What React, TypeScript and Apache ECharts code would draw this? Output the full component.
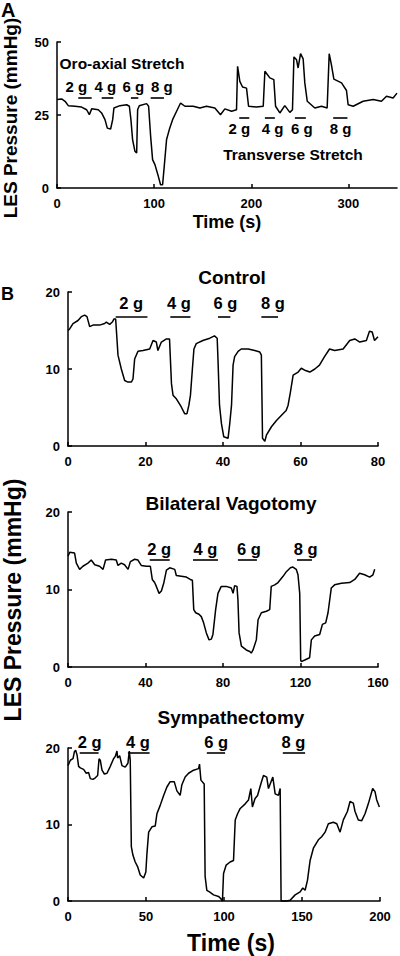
import React, { useEffect, useRef } from "react";
import * as echarts from "echarts";

// ---------- Panel A (oro-axial vs transverse stretch) ----------
const aTime = [0, 4.8, 8.3, 11.6, 18.5, 25.3, 30.5, 33.3, 35.7, 42.5, 45.9, 49.4, 51.8, 55.2, 57.3, 58.6, 64.8, 71.7, 74.5, 76.1, 77.8, 80.2, 82.0, 83.0, 84.7, 92.2, 94.3, 96.4, 98.4, 100.8, 104.3, 106.6, 108.7, 110.4, 112.8, 115.6, 119.0, 123.1, 127.2, 131.7, 140.2, 147.1, 153.9, 162.5, 168.3, 172.8, 179.7, 184.8, 185.9, 188.2, 191.0, 195.1, 197.2, 205.4, 212.3, 214.0, 219.1, 223.2, 225.0, 229.4, 234.5, 239.7, 242.4, 243.9, 246.6, 248.2, 250.7, 253.4, 255.1, 257.6, 265.4, 272.3, 278.1, 280.2, 282.5, 285.0, 292.9, 298.0, 299.7, 304.9, 315.1, 325.5, 334.0, 339.2, 346.0, 350];
const aPressure = [30.3, 30.5, 29.7, 28.2, 28.0, 27.7, 26.8, 25.1, 27.1, 26.8, 25.7, 23.4, 20.5, 20.2, 23.4, 27.4, 28.2, 28.5, 28.0, 23.4, 16.6, 12.6, 12.0, 26.8, 28.2, 28.9, 28.0, 17.7, 9.7, 8.0, 4.0, 1.1, 1.1, 7.4, 16.6, 20.0, 23.4, 26.3, 29.1, 28.0, 28.0, 27.4, 28.0, 27.4, 25.1, 27.1, 26.3, 26.8, 41.7, 36.5, 34.6, 34.2, 28.0, 27.7, 28.0, 40.0, 37.7, 37.1, 28.0, 25.7, 28.2, 25.9, 26.8, 44.9, 43.9, 41.1, 46.0, 44.2, 36.0, 29.7, 27.4, 28.0, 27.4, 46.0, 42.2, 37.3, 36.0, 33.4, 28.5, 28.0, 29.7, 30.3, 29.7, 31.4, 30.8, 32.5];
const aOroBars = [[21.9, 35.7], [46.0, 58.0], [76.1, 83.7], [96.4, 110.1]];
const aOroBarLevel = 30.8;
const aOroLabelX = [19.9, 49.7, 78.5, 108];
const aOroLabelLevel = 34.6;
const aTransBars = [[187.6, 197.9], [214.0, 224.3], [244.9, 256.2], [284.3, 299.0]];
const aTransBarLevel = 24.0;
const aTransLabelX = [187.6, 222, 252, 292];
const aTransLabelLevel = 20.5;

// ---------- Panel B: Control ----------
const cTime = [0, 0.43, 1.29, 2.58, 3.44, 4.3, 4.9, 5.59, 6.45, 8.17, 9.46, 9.89, 10.75, 11.44, 11.87, 12.3, 12.9, 13.76, 14.62, 15.48, 16.34, 16.77, 17.2, 18.06, 19.35, 21.08, 21.94, 22.8, 23.2, 24.1, 25.4, 26.2, 26.7, 27.1, 28.0, 29.2, 30.1, 30.7, 31.2, 31.6, 32.1, 32.5, 33.1, 34.8, 36.6, 37.8, 38.5, 38.7, 39.1, 39.6, 40.2, 41.3, 41.7, 42.2, 42.6, 43.0, 43.9, 44.7, 46.5, 48.2, 49.5, 49.9, 50.2, 50.8, 51.2, 52.5, 53.8, 55.1, 56.3, 56.8, 57.4, 58.1, 59.4, 60.2, 61.3, 62.4, 63.7, 64.9, 66.2, 67.5, 68.8, 71.0, 72.7, 74.0, 75.3, 77.0, 77.8, 78.5, 79.1, 80];
const cPressure = [15.0, 15.2, 15.9, 16.3, 16.8, 17.0, 16.8, 15.5, 15.7, 15.7, 15.9, 16.1, 15.8, 16.1, 16.5, 16.5, 11.8, 10.0, 8.5, 8.3, 8.3, 8.7, 11.3, 12.3, 12.4, 12.6, 13.7, 13.5, 12.4, 13.5, 13.9, 13.9, 8.1, 6.6, 6.1, 5.1, 4.2, 4.2, 5.3, 6.6, 10.0, 12.6, 13.3, 13.7, 14.0, 14.3, 14.0, 11.3, 5.3, 2.9, 1.2, 1.0, 2.7, 5.3, 10.5, 11.6, 12.3, 12.6, 12.6, 12.4, 12.2, 11.8, 1.0, 0.6, 1.4, 2.5, 3.3, 4.0, 4.6, 5.3, 7.0, 9.2, 9.6, 10.1, 9.8, 9.6, 10.0, 10.5, 11.6, 12.6, 12.4, 12.6, 13.7, 13.9, 13.5, 13.7, 14.9, 14.8, 13.7, 14.2];
const cBars = [[12.3, 20.5], [26.4, 31.6], [38.7, 41.9], [49.9, 54.2]];
const cBarLevel = 16.75;
const cLabelX = [16.3, 28.6, 40.6, 52.9];
const cLabelLevel = 18.6;

// ---------- Panel B: Bilateral Vagotomy ----------
const vTime = [0, 0.9, 3.4, 4.3, 6.0, 7.7, 10.3, 12.0, 13.8, 16.3, 18.1, 19.4, 22.4, 24.9, 25.8, 27.5, 29.2, 31.0, 32.2, 34.4, 36.1, 37.8, 40.4, 42.5, 43.5, 44.7, 45.6, 47.0, 48.2, 49.4, 50.8, 52.5, 55.1, 55.9, 58.5, 61.1, 63.1, 64.2, 64.9, 65.9, 67.6, 68.8, 70.0, 71.4, 72.8, 74.0, 74.8, 76.2, 77.4, 79.1, 81.7, 84.3, 85.2, 86.0, 87.2, 87.7, 88.3, 89.5, 92.0, 93.8, 94.6, 95.5, 97.2, 98.1, 99.8, 102.4, 104.1, 104.9, 106.7, 108.4, 111.0, 112.7, 114.8, 116.1, 117.8, 118.7, 119.6, 120.1, 120.4, 122.2, 124.7, 125.6, 127.3, 129.9, 131.3, 133.0, 134.2, 135.9, 137.6, 141.1, 145.4, 148.0, 150.5, 153.1, 155.7, 157.4, 158.3];
const vPressure = [14.3, 14.8, 14.7, 13.4, 12.6, 13.0, 13.4, 13.8, 13.2, 13.0, 12.6, 13.8, 13.9, 13.8, 13.1, 13.4, 13.2, 12.6, 13.6, 13.9, 13.8, 13.1, 13.0, 13.0, 11.3, 10.9, 10.4, 9.5, 9.8, 10.8, 12.5, 12.8, 12.6, 11.8, 11.7, 11.6, 11.3, 11.2, 7.4, 7.0, 6.8, 6.5, 5.7, 4.4, 3.5, 3.6, 4.2, 7.4, 9.5, 10.4, 10.4, 10.2, 9.5, 10.5, 10.4, 8.7, 4.4, 2.7, 2.2, 2.0, 1.8, 2.2, 3.5, 6.1, 7.0, 7.2, 7.4, 10.4, 10.6, 10.9, 11.7, 12.3, 12.8, 12.9, 12.6, 11.9, 9.5, 0.9, 0.7, 0.9, 1.2, 3.5, 4.0, 4.2, 5.5, 5.7, 7.0, 10.2, 10.6, 10.8, 10.9, 11.3, 12.1, 11.9, 11.6, 11.9, 12.6];
const vBars = [[42.2, 52.5], [64.5, 77.4], [87.7, 97.5], [118.2, 125.9]];
const vBarLevel = 13.85;
const vLabelX = [47, 70.9, 93.4, 122.7];
const vLabelLevel = 15.2;

// ---------- Panel B: Sympathectomy ----------
const sTime = [0, 1.5, 3.2, 4.1, 4.9, 5.8, 6.8, 7.9, 10.0, 11.7, 13.2, 14.3, 16.0, 17.5, 19.0, 19.9, 20.7, 21.8, 23.3, 25.0, 27.1, 29.2, 30.3, 31.4, 31.8, 33.1, 34.6, 36.7, 38.4, 39.3, 39.9, 40.6, 41.6, 43.1, 44.6, 46.3, 48.5, 49.9, 50.6, 51.7, 53.8, 55.9, 57.0, 59.1, 61.3, 63.4, 65.5, 68.1, 69.8, 71.9, 73.0, 75.1, 77.3, 80.5, 83.7, 84.3, 85.2, 87.3, 87.9, 89.0, 90.7, 93.3, 96.5, 98.0, 99.0, 99.7, 101.4, 103.9, 106.1, 107.2, 108.7, 110.4, 113.6, 115.7, 117.2, 118.2, 119.9, 121.5, 123.6, 125.3, 127.4, 128.5, 131.3, 132.8, 134.9, 136.0, 136.6, 138.1, 140.2, 142.4, 145.6, 148.8, 150.5, 152.0, 153.5, 155.2, 157.3, 160.5, 162.6, 164.8, 166.9, 170.1, 172.3, 174.4, 176.5, 179.1, 180.8, 182.9, 184.0, 186.1, 188.3, 190.4, 192.5, 195.3, 196.8, 197.9, 199.6];
const sPressure = [17.7, 18.4, 18.6, 19.5, 19.7, 19.1, 17.6, 17.4, 17.2, 16.7, 16.8, 16.0, 15.9, 16.1, 16.4, 18.6, 18.4, 17.1, 16.6, 16.7, 17.6, 18.6, 18.9, 19.6, 18.7, 19.0, 17.7, 17.5, 18.0, 19.6, 18.4, 7.1, 6.0, 5.1, 4.5, 3.4, 3.0, 3.8, 6.2, 9.0, 9.7, 9.8, 11.4, 12.5, 13.8, 14.9, 15.6, 15.6, 14.4, 13.8, 15.2, 16.2, 16.7, 17.1, 17.3, 17.9, 15.8, 15.3, 3.2, 1.4, 1.2, 0.8, 0.6, 0.3, 0, 3.6, 4.7, 5.1, 5.3, 10.6, 11.4, 12.1, 12.7, 13.2, 14.7, 12.3, 13.4, 13.8, 15.3, 16.4, 16.2, 14.7, 16.2, 14.0, 13.8, 14.7, 0, 0, 0, 0.1, 0.8, 1.2, 1.7, 1.4, 2.7, 5.3, 6.9, 8.0, 8.4, 9.0, 10.1, 10.3, 10.1, 9.0, 10.6, 11.7, 13.0, 12.8, 11.7, 10.6, 10.5, 11.4, 12.7, 14.7, 14.3, 13.2, 12.3];
const sBars = [[7.5, 19.6], [38.4, 52.3], [89.0, 100.7], [137.7, 152.0]];
const sBarLevel = 19.35;
const sLabelX = [13.9, 44.8, 95.0, 144.5];
const sLabelLevel = 20.8;

const stimLabels = ["2 g", "4 g", "6 g", "8 g"];

// axis ranges
const aXMax = 350, aXStep = 100, aYMax = 50, aYStep = 25;
const cXMax = 80, cXStep = 20;
const vXMax = 160, vXStep = 40;
const sXMax = 200, sXStep = 50;
const bYMax = 20, bYStep = 10;

const FONT = "'Liberation Sans', Arial, Helvetica, sans-serif";

function zip(t: number[], p: number[]) {
  const n = Math.min(t.length, p.length);
  const out: number[][] = [];
  for (let i = 0; i < n; i++) out.push([t[i], p[i]]);
  return out;
}

function traceSeries(idx: number, t: number[], p: number[], bars: number[][][], levels: number[]) {
  const segs: any[] = [];
  bars.forEach((set, k) => {
    set.forEach(([s, e]) => {
      segs.push([{ coord: [s, levels[k]] }, { coord: [e, levels[k]] }]);
    });
  });
  return {
    type: "line",
    xAxisIndex: idx,
    yAxisIndex: idx,
    data: zip(t, p),
    symbol: "none",
    silent: true,
    clip: false,
    lineStyle: { color: "#000", width: 1.5 },
    markLine: {
      silent: true,
      symbol: ["none", "none"],
      label: { show: false },
      lineStyle: { color: "#000", width: 1.6, type: "solid" },
      data: segs,
    },
  };
}

function labelSeries(idx: number, xs: number[], level: number, size: number) {
  return {
    type: "scatter",
    xAxisIndex: idx,
    yAxisIndex: idx,
    clip: false,
    silent: true,
    symbol: "circle",
    symbolSize: 0.1,
    itemStyle: { color: "#fff", opacity: 0 },
    data: stimLabels.map((l, i) => ({ name: l, value: [xs[i], level] })),
    label: {
      show: true,
      position: "inside",
      formatter: "{b}",
      color: "#000",
      opacity: 1,
      textBorderWidth: 0,
      textShadowBlur: 0,
      fontWeight: "bold",
      fontSize: size,
      fontFamily: FONT,
    },
  };
}

function xAxisDef(idx: number, max: number, step: number, showMax: boolean) {
  return {
    type: "value",
    gridIndex: idx,
    min: 0,
    max,
    interval: step,
    axisLine: { show: true, lineStyle: { color: "#000", width: 1.5 } },
    axisTick: { show: true, inside: true, length: 4, lineStyle: { color: "#000", width: 1.5 } },
    axisLabel: { color: "#000", fontWeight: "bold", fontSize: 13, fontFamily: FONT, margin: 9, showMaxLabel: showMax },
    splitLine: { show: false },
  };
}

function yAxisDef(idx: number, max: number, step: number) {
  return {
    type: "value",
    gridIndex: idx,
    min: 0,
    max,
    interval: step,
    axisLine: { show: true, lineStyle: { color: "#000", width: 1.5 } },
    axisTick: { show: true, inside: true, length: 4, lineStyle: { color: "#000", width: 1.5 } },
    axisLabel: { color: "#000", fontWeight: "bold", fontSize: 13, fontFamily: FONT, margin: 8 },
    splitLine: { show: false },
  };
}

function txt(text: string, x: number, y: number, size: number, rotation = 0, align = "center") {
  return {
    type: "text",
    x,
    y,
    rotation,
    silent: true,
    style: {
      text,
      fill: "#000",
      fontSize: size,
      fontWeight: "bold",
      fontFamily: FONT,
      align,
      verticalAlign: "middle",
    },
  };
}

export default function App() {
  const ref = useRef<HTMLDivElement>(null);
  useEffect(() => {
    if (!ref.current) return;
    const chart = echarts.init(ref.current, undefined, { renderer: "svg" });
    const option: any = {
      animation: false,
      backgroundColor: "#fff",
      grid: [
        { left: 57, top: 42, width: 340, height: 146 },
        { left: 68, top: 292, width: 310, height: 154 },
        { left: 68, top: 512, width: 310, height: 155 },
        { left: 68, top: 748, width: 312, height: 153 },
      ],
      xAxis: [
        xAxisDef(0, aXMax, aXStep, false),
        xAxisDef(1, cXMax, cXStep, true),
        xAxisDef(2, vXMax, vXStep, true),
        xAxisDef(3, sXMax, sXStep, true),
      ],
      yAxis: [
        yAxisDef(0, aYMax, aYStep),
        yAxisDef(1, bYMax, bYStep),
        yAxisDef(2, bYMax, bYStep),
        yAxisDef(3, bYMax, bYStep),
      ],
      series: [
        traceSeries(0, aTime, aPressure, [aOroBars, aTransBars], [aOroBarLevel, aTransBarLevel]),
        labelSeries(0, aOroLabelX, aOroLabelLevel, 15),
        labelSeries(0, aTransLabelX, aTransLabelLevel, 15),
        traceSeries(1, cTime, cPressure, [cBars], [cBarLevel]),
        labelSeries(1, cLabelX, cLabelLevel, 16.5),
        traceSeries(2, vTime, vPressure, [vBars], [vBarLevel]),
        labelSeries(2, vLabelX, vLabelLevel, 16.5),
        traceSeries(3, sTime, sPressure, [sBars], [sBarLevel]),
        labelSeries(3, sLabelX, sLabelLevel, 16.5),
      ],
      graphic: [
        txt("A", 1, 10, 20, 0, "left"),
        txt("B", 1, 294, 18, 0, "left"),
        txt("LES Pressure (mmHg)", 10, 118, 19, Math.PI / 2),
        txt("Oro-axial Stretch", 122, 63, 15.5),
        txt("Transverse Stretch", 293, 154, 15.5),
        txt("Time (s)", 227, 222, 18),
        txt("Control", 232, 277, 19),
        txt("Bilateral Vagotomy", 231, 503, 19),
        txt("Sympathectomy", 231, 717, 19),
        txt("LES Pressure (mmHg)", 13, 600, 23, Math.PI / 2),
        txt("Time (s)", 231, 943, 23),
      ],
    };
    chart.setOption(option);
    return () => chart.dispose();
  }, []);
  return (
    <div
      ref={ref}
      style={{ position: "absolute", left: 0, top: 0, width: 400, height: 956, background: "#fff" }}
    />
  );
}
